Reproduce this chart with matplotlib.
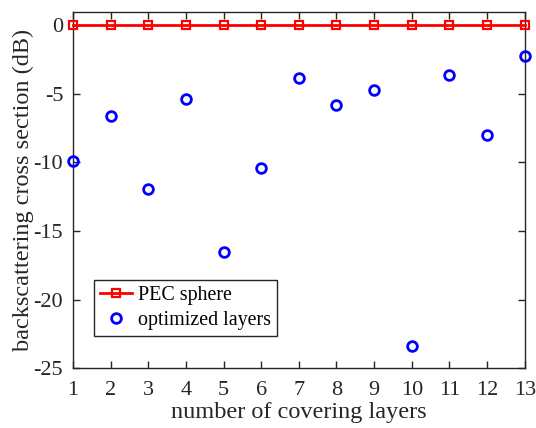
import matplotlib
matplotlib.use('Agg')
import matplotlib.pyplot as plt
import numpy as np

layers = [1, 2, 3, 4, 5, 6, 7, 8, 9, 10, 11, 12, 13]
pec_sphere = [0, 0, 0, 0, 0, 0, 0, 0, 0, 0, 0, 0, 0]
optimized = [-9.93, -6.6, -11.95, -5.37, -16.55, -10.44, -3.81,
             -5.83, -4.74, -23.4, -3.64, -7.99, -2.26]

plt.rcParams['font.family'] = ['Liberation Serif', 'DejaVu Serif']
plt.rcParams['axes.unicode_minus'] = False
axcolor = '#262626'

fig = plt.figure(figsize=(5.36, 4.28), dpi=100)
ax = fig.add_axes([0.136, 0.140, 0.843, 0.833])

ax.plot(layers, pec_sphere, color='red', linewidth=2, marker='s',
        markersize=6, markerfacecolor='none', markeredgewidth=1.6,
        label='PEC sphere', clip_on=False, zorder=3)
ax.plot(layers, optimized, linestyle='None', marker='o', color='blue',
        markersize=7, markerfacecolor='none', markeredgewidth=2,
        label='optimized layers', clip_on=False, zorder=3)

ax.set_xlim(1, 13)
ax.set_ylim(-25, 1)
ax.set_xticks(layers)
ax.set_yticks([0, -5, -10, -15, -20, -25])
ax.tick_params(direction='in', top=True, right=True, labelsize=16,
               colors=axcolor, length=5, width=1, pad=7)
ax.tick_params(axis='x', pad=9)
for s in ax.spines.values():
    s.set_color(axcolor)
    s.set_linewidth(1)

ax.set_xlabel('number of covering layers', fontsize=17.5, color=axcolor, labelpad=2)
ax.set_ylabel('backscattering cross section (dB)', fontsize=17.5, color=axcolor, labelpad=0)

leg = ax.legend(loc='lower left', bbox_to_anchor=(0.046, 0.09), fontsize=14.4,
                fancybox=False, framealpha=1, edgecolor=axcolor,
                handlelength=1.6, handletextpad=0.3, borderpad=0.3,
                labelspacing=0.3, borderaxespad=0)
leg.get_frame().set_linewidth(1)

fig.savefig('out.png', dpi=100)
